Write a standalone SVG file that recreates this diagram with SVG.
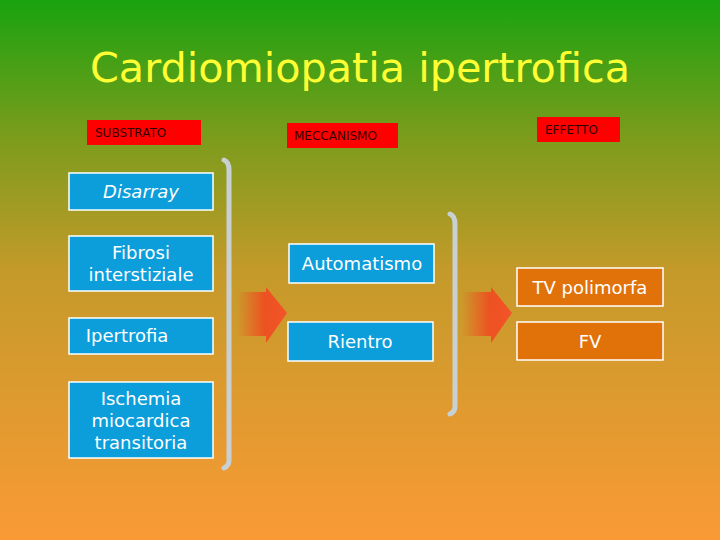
<svg xmlns="http://www.w3.org/2000/svg" width="720" height="540" viewBox="0 0 720 540">
<defs>
<linearGradient id="bg" x1="0" y1="0" x2="0" y2="1">
<stop offset="0" stop-color="#19a30f"/>
<stop offset="0.25" stop-color="#7a9c1c"/>
<stop offset="0.5" stop-color="#c49a2a"/>
<stop offset="1" stop-color="#fa9a35"/>
</linearGradient>
<linearGradient id="ar" x1="0" y1="0" x2="1" y2="0">
<stop offset="0" stop-color="#f04a20" stop-opacity="0"/>
<stop offset="0.55" stop-color="#f04a20" stop-opacity="0.9"/>
<stop offset="1" stop-color="#f25528"/>
</linearGradient>
<style>
.b{fill:#0b9edb;stroke:#fff;stroke-width:1.5}
.o{fill:#e1720a;stroke:#fff;stroke-width:1.5}
.t{font-family:"DejaVu Sans",sans-serif;font-size:18px;fill:#fff;text-anchor:middle}
.l{fill:#f00}
.lt{font-family:"DejaVu Sans",sans-serif;font-size:12px;fill:#300}
.br{fill:none;stroke:#c8d0d4;stroke-width:5;stroke-linecap:round}
</style>
</defs>
<rect width="720" height="540" fill="url(#bg)"/>
<text x="90" y="82" font-family="DejaVu Sans, sans-serif" font-size="40" fill="#ffff33" textLength="540" lengthAdjust="spacingAndGlyphs">Cardiomiopatia ipertrofica</text>
<g id="lab-substrato"><rect class="l" x="87" y="120" width="114" height="25"/><text class="lt" x="95" y="137">SUBSTRATO</text></g>
<g id="lab-meccanismo"><rect class="l" x="287" y="123" width="111" height="25"/><text class="lt" x="294" y="140">MECCANISMO</text></g>
<g id="lab-effetto"><rect class="l" x="537" y="117" width="83" height="25"/><text class="lt" x="545" y="134">EFFETTO</text></g>
<g id="disarray"><rect class="b" x="69" y="173" width="144" height="37"/><text class="t" x="141" y="198" font-style="italic">Disarray</text></g>
<g id="fibrosi"><rect class="b" x="69" y="236" width="144" height="55"/><text class="t" x="141" y="259">Fibrosi</text><text class="t" x="141" y="281">interstiziale</text></g>
<g id="ipertrofia"><rect class="b" x="69" y="318" width="144" height="36"/><text class="t" x="127" y="342">Ipertrofia</text></g>
<g id="ischemia"><rect class="b" x="69" y="382" width="144" height="76"/><text class="t" x="141" y="405">Ischemia</text><text class="t" x="141" y="427">miocardica</text><text class="t" x="141" y="449">transitoria</text></g>
<g id="automatismo"><rect class="b" x="289" y="244" width="145" height="39"/><text class="t" x="362" y="270">Automatismo</text></g>
<g id="rientro"><rect class="b" x="288" y="322" width="145" height="39"/><text class="t" x="360" y="348">Rientro</text></g>
<g id="tv"><rect class="o" x="517" y="268" width="146" height="38"/><text class="t" x="590" y="294">TV polimorfa</text></g>
<g id="fv"><rect class="o" x="517" y="322" width="146" height="38"/><text class="t" x="590" y="348">FV</text></g>
<g id="connectors">
<path class="br" d="M224 160 Q229 162 229 170 L229 460 Q229 466 224 468"/>
<path class="br" d="M450 214 Q455 216 455 224 L455 406 Q455 412 450 414"/>
<path fill="url(#ar)" d="M237 292 L266 292 L266 287 L287 313 L266 343 L266 336 L237 336 Z"/>
<path fill="url(#ar)" d="M462 292 L491 292 L491 287 L512 313 L491 343 L491 336 L462 336 Z"/>
</g>
</svg>
